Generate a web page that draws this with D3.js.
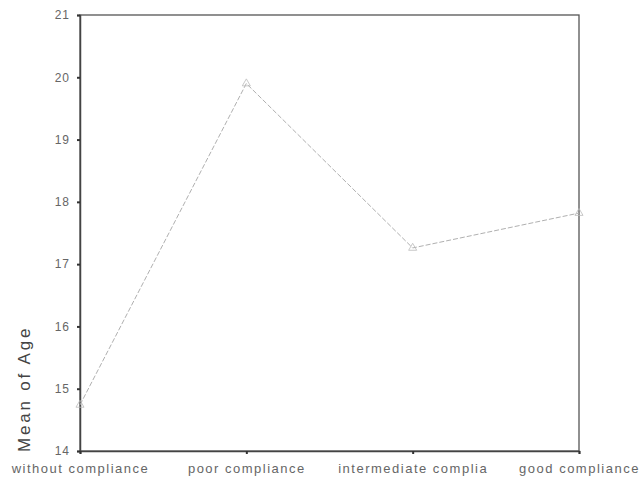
<!DOCTYPE html>
<html>
<head>
<meta charset="utf-8">
<script src="https://cdn.jsdelivr.net/npm/d3@7"></script>
<style>
  body { margin: 0; background: #fff; }
  svg { font-family: Arial, "Liberation Sans", sans-serif; }
</style>
</head>
<body>
<svg width="640" height="480"></svg>
<script>
var categories = ["without compliance", "poor compliance", "intermediate complia", "good compliance"];
var meanAge = [14.74, 19.9, 17.26, 17.82];
var yTicks = [14, 15, 16, 17, 18, 19, 20, 21];

var svg = d3.select("svg");

var margin = { top: 15, right: 61, bottom: 29, left: 80 };
var plotWidth = 640 - margin.left - margin.right;
var plotHeight = 480 - margin.top - margin.bottom;

var plot = svg.append("g")
  .attr("transform", "translate(" + margin.left + "," + margin.top + ")");

var xScale = d3.scalePoint()
  .domain(categories)
  .range([0, plotWidth])
  .padding(0);

var yScale = d3.scaleLinear()
  .domain([14, 21])
  .range([plotHeight, 0]);

// frame top and right
plot.append("rect")
  .attr("x", 0)
  .attr("y", 0)
  .attr("width", plotWidth)
  .attr("height", plotHeight)
  .attr("fill", "none")
  .attr("stroke", "#555")
  .attr("stroke-width", 1.3);

var yAxis = d3.axisLeft(yScale)
  .tickValues(yTicks)
  .tickFormat(d3.format("d"))
  .tickSize(3)
  .tickPadding(7);
var xAxis = d3.axisBottom(xScale).tickSize(3).tickPadding(10);

var yGroup = plot.append("g").call(yAxis);
var xGroup = plot.append("g")
  .attr("transform", "translate(0," + plotHeight + ")")
  .call(xAxis);

[yGroup, xGroup].forEach(function(g) {
  g.select(".domain").attr("stroke", "#444").attr("stroke-width", 1.5);
  g.selectAll(".tick line").attr("stroke", "#333").attr("stroke-width", 2);
});
yGroup.selectAll("text")
  .style("font-size", "12px")
  .style("letter-spacing", "1px")
  .attr("fill", "#666");
xGroup.selectAll("text")
  .style("font-size", "13px")
  .style("letter-spacing", "1.5px")
  .attr("fill", "#666");

var line = d3.line()
  .x(function(d, i) { return xScale(categories[i]); })
  .y(function(d) { return yScale(d); });

plot.append("path")
  .datum(meanAge)
  .attr("fill", "none")
  .attr("stroke", "#b0b0b0")
  .attr("stroke-width", 1)
  .attr("stroke-dasharray", "5,2")
  .attr("d", line);

// open triangle markers
plot.selectAll(".marker")
  .data(meanAge)
  .enter().append("path")
  .attr("class", "marker")
  .attr("d", d3.symbol().type(d3.symbolTriangle).size(28))
  .attr("transform", function(d, i) {
    return "translate(" + xScale(categories[i]) + "," + yScale(d) + ")";
  })
  .attr("fill", "none")
  .attr("stroke", "#bbb")
  .attr("stroke-width", 0.8);

svg.append("text")
  .attr("transform", "translate(30," + (margin.top + plotHeight + 1) + ") rotate(-90)")
  .style("text-anchor", "start")
  .style("font-size", "17px")
  .style("letter-spacing", "2.8px")
  .attr("fill", "#444")
  .text("Mean of Age");
</script>
</body>
</html>
